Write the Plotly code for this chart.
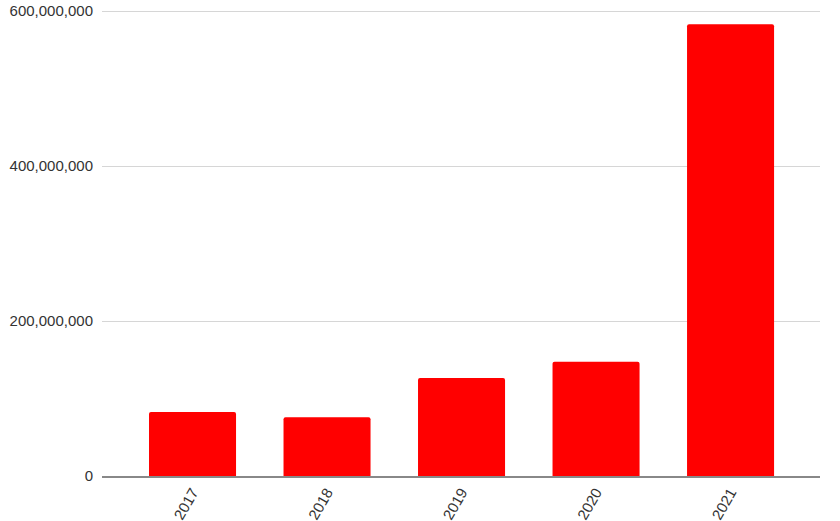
import plotly.graph_objects as go

years = ["2017", "2018", "2019", "2020", "2021"]
values = [82600000, 75700000, 126500000, 147500000, 582800000]
y_ticks = [0, 200000000, 400000000, 600000000]
y_tick_labels = ["0", "200,000,000", "400,000,000", "600,000,000"]

fig = go.Figure(
    go.Bar(
        x=years,
        y=values,
        marker=dict(color="#ff0000", line=dict(width=0)),
        width=0.647,
    )
)

fig.update_layout(
    width=840,
    height=521,
    margin=dict(l=102, r=20, t=6, b=45),
    plot_bgcolor="white",
    paper_bgcolor="white",
    showlegend=False,
    barcornerradius=2,
    font=dict(family="Liberation Sans, Arial, sans-serif", size=15, color="#333333"),
)

fig.update_xaxes(
    type="category",
    range=[-0.673, 4.665],
    tickangle=-60,
    showgrid=False,
    showline=True,
    linecolor="#888888",
    linewidth=1.5,
    ticks="",
    automargin=False,
    tickfont=dict(size=15, color="#333333"),
)

fig.update_yaxes(
    range=[0, 606450000],
    tickvals=y_ticks,
    ticktext=y_tick_labels,
    showgrid=True,
    gridcolor="#d6d6d6",
    gridwidth=1,
    zeroline=False,
    showline=False,
    ticks="",
    automargin=False,
    ticklabelstandoff=8,
    tickfont=dict(size=15, color="#333333"),
)

fig.write_html(
    "out.html",
    config={"displayModeBar": False},
    post_script="document.body.style.margin='0';document.body.style.overflow='hidden';",
)
